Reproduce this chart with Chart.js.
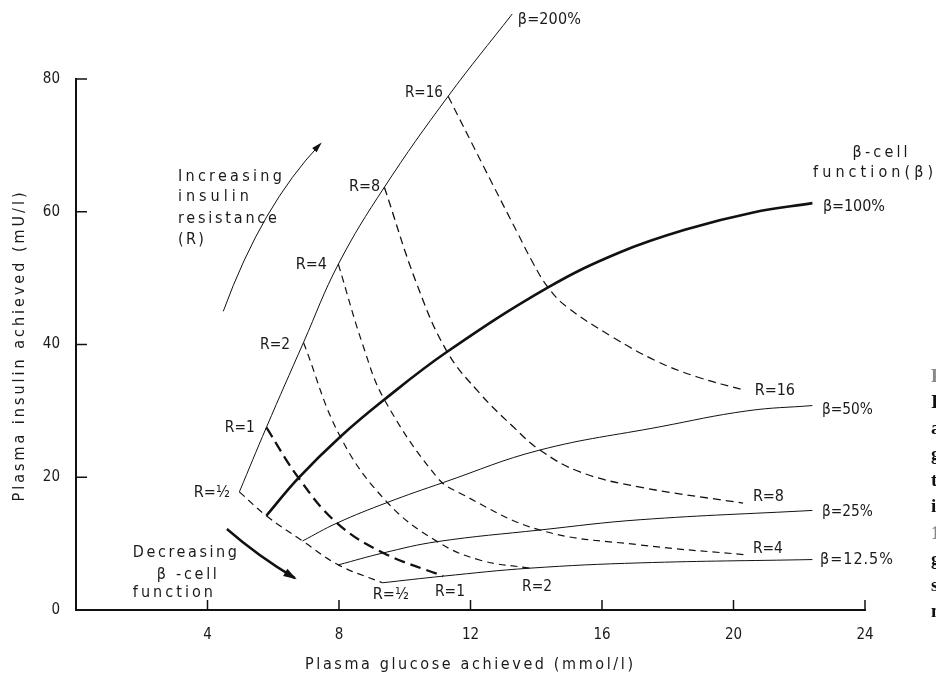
<!DOCTYPE html>
<html><head><meta charset="utf-8">
<script src="https://cdn.jsdelivr.net/npm/chart.js@4"></script>
<style>html,body{margin:0;padding:0;background:#fff;}canvas{display:block;}</style>
</head><body>
<canvas id="c" width="936" height="675"></canvas>
<script>
// ---- data (x = plasma glucose mmol/l, y = plasma insulin mU/l) ----
const xTicks = [4, 8, 12, 16, 20, 24];
const yTicks = [0, 20, 40, 60, 80];

// beta-cell function curves
const beta200 = [[4.97,17.8],[5.79,27.5],[6.92,40.3],[7.98,52.1],[9.38,63.7],[11.32,77.4],[13.27,89.8]];
const beta100 = [[5.79,14.2],[6.77,19.9],[8.04,26.1],[9.38,31.7],[11.29,38.9],[14.36,48.6],[16.55,53.9],[18.6,57.4],[20.6,59.9],[22.4,61.3]];
const beta50  = [[6.89,10.4],[7.94,13.1],[9.47,16.2],[11.17,19.2],[14.11,24.1],[17.76,27.6],[20.41,30.0],[22.4,30.8]];
const beta25  = [[7.98,6.8],[9.35,8.6],[10.99,10.3],[14.11,12.05],[17.16,13.6],[22.4,15.0]];
const beta12  = [[9.32,4.1],[11.17,5.1],[13.8,6.3],[17.16,7.1],[22.4,7.6]];

// insulin resistance curves
const rHalf = [[4.97,17.8],[5.79,14.2],[6.89,10.4],[7.98,6.8],[9.32,4.1]];
const r1    = [[5.79,27.5],[6.77,19.9],[7.94,13.1],[9.35,8.6],[11.17,5.1]];
const r2    = [[6.92,40.3],[8.04,26.1],[9.47,16.2],[10.99,10.3],[12.3,7.5],[13.8,6.3]];
const r4    = [[7.98,52.1],[8.74,39.7],[9.38,31.7],[10.98,20.0],[11.68,17.6],[14.11,12.05],[17.16,9.8],[20.41,8.3]];
const r8    = [[9.38,63.7],[10.36,49.2],[11.29,38.9],[12.29,32.6],[13.3,27.6],[14.11,24.1],[15.33,20.8],[17.16,18.5],[20.29,16.1]];
const r16   = [[11.32,77.4],[12.39,66.9],[13.42,56.9],[13.91,52.2],[14.36,48.6],[14.92,45.7],[16.33,41.1],[17.66,37.5],[18.9,35.1],[20.35,33.1]];

// ---- text annotations (data coordinates) ----
const FONT = "'DejaVu Sans Condensed','Liberation Sans Narrow','DejaVu Sans',sans-serif";
const curveLabels = [
  {t:'β=200%', x:13.44, y:88.9, a:'left',  w:63},
  {t:'R=16',   x:11.16, y:77.9, a:'right', w:38},
  {t:'R=8',    x:9.25,  y:63.7, a:'right', w:31},
  {t:'R=4',    x:7.63,  y:52.0, a:'right', w:31},
  {t:'R=2',    x:6.51,  y:39.9, a:'right', w:30},
  {t:'R=1',    x:5.44,  y:27.4, a:'right', w:30},
  {t:'R=½',    x:4.68,  y:17.6, a:'right', w:36},
  {t:'R=½',    x:9.03,  y:2.3,  a:'left',  w:36},
  {t:'R=1',    x:10.92, y:2.7,  a:'left',  w:30},
  {t:'R=2',    x:13.57, y:3.5,  a:'left',  w:30},
  {t:'R=16',   x:20.65, y:33.0, a:'left',  w:40},
  {t:'R=8',    x:20.59, y:17.0, a:'left',  w:31},
  {t:'R=4',    x:20.59, y:9.2,  a:'left',  w:30},
  {t:'β=100%', x:22.72, y:60.7, a:'left',  w:62},
  {t:'β=50%',  x:22.69, y:30.1, a:'left',  w:51},
  {t:'β=25%',  x:22.69, y:14.8, a:'left',  w:51},
  {t:'β=12.5%',x:22.63, y:7.5,  a:'left',  w:73},
  {t:'β-cell', x:24.46, y:68.9, a:'center',w:55},
  {t:'function(β)', x:22.42, y:65.8, a:'left', w:120},
  {t:'Increasing', x:3.10, y:65.2, a:'left', w:104},
  {t:'insulin',    x:3.10, y:62.2, a:'left', w:71},
  {t:'resistance', x:3.10, y:58.9, a:'left', w:99},
  {t:'(R)',        x:3.10, y:55.7, a:'left', w:26},
  {t:'Decreasing', x:1.73, y:8.6,  a:'left', w:104},
  {t:'β -cell',    x:2.46, y:5.3,  a:'left', w:60},
  {t:'function',   x:1.73, y:2.6,  a:'left', w:80}
];
// arrows: start, control, end (data coordinates)
const arrowUp   = [[4.48,45.0],[5.66,61.0],[7.43,70.2]];
const arrowDown = [[4.59,12.2],[5.54,8.1],[6.66,4.8]];
// clipped caption fragment from the neighbouring column
const captionBits = ['F','I','a','g','t','i','1','g','s','m'];

function ds(points, width, dash){
  return {data: points.map(([x,y])=>({x,y})), borderColor:'#111', borderWidth:width,
    borderDash: dash || [], pointRadius:0, showLine:true, fill:false,
    tension:0.4, clip:false};
}

function fitText(ctx, text, x, y, target, align, size, weight){
  size = size || 16;
  ctx.font = (weight||'') + ' ' + size + 'px ' + FONT;
  ctx.letterSpacing = '0px';
  const n = Array.from(text).length;
  let w = ctx.measureText(text).width;
  let s = n > 1 ? (target - w)/(n-1) : 0;
  if (s < -0.5){ size = size*target/w; ctx.font = (weight||'') + ' ' + size + 'px ' + FONT; w = ctx.measureText(text).width; s = 0; }
  ctx.letterSpacing = s + 'px';
  const vis = w + s*(n-1);
  let left = x;
  if (align === 'right') left = x - vis; else if (align === 'center') left = x - vis/2;
  ctx.textAlign = 'left';
  ctx.textBaseline = 'middle';
  ctx.fillText(text, left, y);
  ctx.letterSpacing = '0px';
}

function drawArrow(ctx, pts, px, py, lw, head){
  const [p0,c,p2] = pts.map(([a,b])=>[px(a),py(b)]);
  ctx.lineWidth = lw;
  ctx.beginPath(); ctx.moveTo(p0[0],p0[1]); ctx.quadraticCurveTo(c[0],c[1],p2[0],p2[1]); ctx.stroke();
  const ang = Math.atan2(p2[1]-c[1], p2[0]-c[0]);
  ctx.beginPath();
  ctx.moveTo(p2[0]+Math.cos(ang)*2, p2[1]+Math.sin(ang)*2);
  ctx.lineTo(p2[0]-Math.cos(ang-0.35)*head, p2[1]-Math.sin(ang-0.35)*head);
  ctx.lineTo(p2[0]-Math.cos(ang+0.35)*head, p2[1]-Math.sin(ang+0.35)*head);
  ctx.closePath(); ctx.fill();
}

const deco = {
  id:'deco',
  afterDraw(chart){
    const {ctx, scales:{x, y}} = chart;
    const px = v => x.getPixelForValue(v), py = v => y.getPixelForValue(v);
    ctx.save();
    ctx.strokeStyle = '#111'; ctx.fillStyle = '#111';
    // inward tick marks
    ctx.lineWidth = 1.5;
    xTicks.forEach(v => { const X = px(v); ctx.beginPath(); ctx.moveTo(X, py(0)); ctx.lineTo(X, py(0)-10); ctx.stroke(); });
    yTicks.filter(v => v > 0).forEach(v => { const Y = py(v); ctx.beginPath(); ctx.moveTo(px(0), Y); ctx.lineTo(px(0)+11, Y); ctx.stroke(); });
    // arrows
    drawArrow(ctx, arrowUp, px, py, 1, 9);
    drawArrow(ctx, arrowDown, px, py, 2.4, 12);
    // labels
    ctx.fillStyle = '#1a1a1a';
    curveLabels.forEach(l => fitText(ctx, l.t, px(l.x), py(l.y), l.w, l.a, 16));
    // axis titles
    fitText(ctx, 'Plasma glucose achieved (mmol/l)', 469, 665, 328, 'center', 16);
    ctx.save();
    ctx.translate(20, 347); ctx.rotate(-Math.PI/2);
    fitText(ctx, 'Plasma insulin achieved (mU/l)', 0, 0, 309, 'center', 16);
    ctx.restore();
    // caption fragment at right edge
    ctx.font = 'bold 19px "Liberation Serif", serif';
    ctx.textBaseline = 'middle'; ctx.textAlign = 'left';
    captionBits.forEach((c, i) => {
      ctx.fillStyle = (i === 0 || i === 6) ? '#888' : '#111';
      ctx.fillText(c, 931, 377 + i*26.1);
    });
    ctx.restore();
  }
};

new Chart(document.getElementById('c'), {
  type: 'scatter',
  data: { datasets: [
    ds(rHalf, 1.2, [7,5]),
    ds(r1, 2.3, [11,6]),
    ds(r2, 1.2, [7,5]),
    ds(r4, 1.2, [7,5]),
    ds(r8, 1.3, [8,5]),
    ds(r16, 1.2, [8,5]),
    ds(beta200, 1),
    ds(beta100, 2.6),
    ds(beta50, 1),
    ds(beta25, 1),
    ds(beta12, 1)
  ]},
  options: {
    responsive: false, animation: false,
    layout: { padding: { left: 26, top: 79, right: 71, bottom: 0 } },
    plugins: { legend: { display: false }, tooltip: { enabled: false } },
    scales: {
      x: { type: 'linear', min: 0, max: 24,
        afterBuildTicks: s => { s.ticks = xTicks.map(v => ({value: v})); },
        ticks: { font: { family: FONT, size: 15 }, color: '#1a1a1a', padding: 8, maxRotation: 0, autoSkip: false },
        grid: { display: false },
        border: { display: true, color: '#111', width: 2 },
        afterFit: s => { s.height = 65; } },
      y: { type: 'linear', min: 0, max: 80,
        afterBuildTicks: s => { s.ticks = yTicks.map(v => ({value: v})); },
        ticks: { font: { family: FONT, size: 15 }, color: '#1a1a1a', padding: 8 },
        grid: { display: false },
        border: { display: true, color: '#111', width: 2 },
        afterFit: s => { s.width = 50; } }
    }
  },
  plugins: [deco]
});
</script>
</body></html>
